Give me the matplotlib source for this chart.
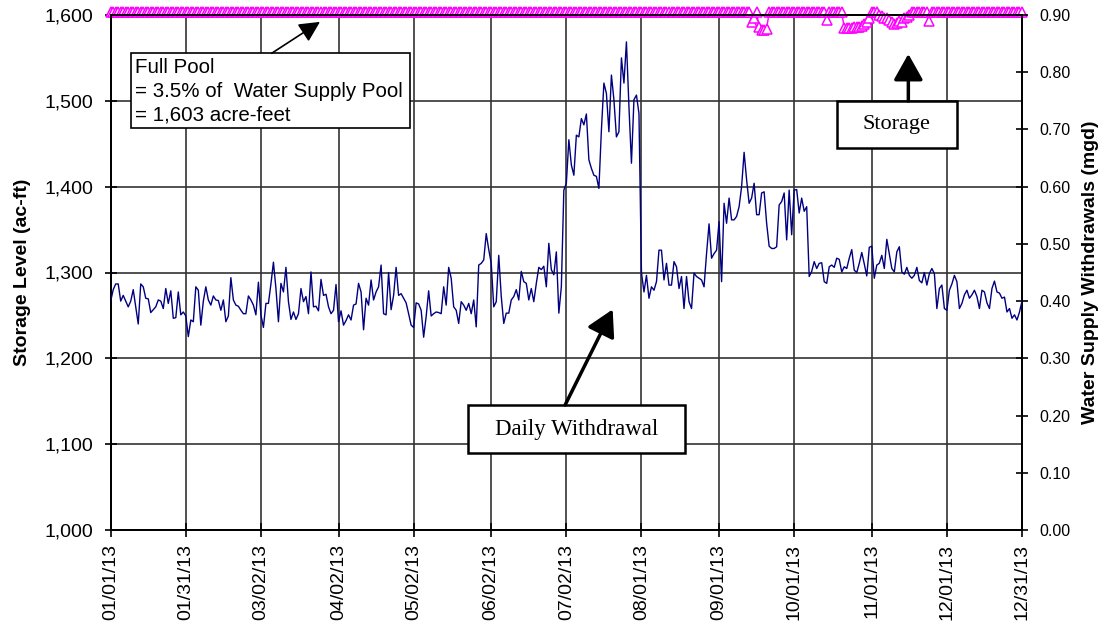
import matplotlib
matplotlib.use('Agg')
import matplotlib.pyplot as plt
from matplotlib.patches import Rectangle
from matplotlib.ticker import FuncFormatter

plt.rcParams['font.family'] = ['Liberation Sans', 'DejaVu Sans']

# x axis ticks (day of year 2013)
tick_days = [0, 30, 60, 91, 121, 152, 182, 212, 243, 273, 304, 334, 364]
tick_labels = ['01/01/13', '01/31/13', '03/02/13', '04/02/13', '05/02/13', '06/02/13',
               '07/02/13', '08/01/13', '09/01/13', '10/01/13', '11/01/13', '12/01/13', '12/31/13']

# daily withdrawals (mgd)
wd_jan = [0.40, 0.42, 0.43, 0.43, 0.40, 0.41, 0.40, 0.39, 0.40, 0.42, 0.39, 0.36, 0.43, 0.425, 0.405,
          0.404, 0.38, 0.385, 0.39, 0.402, 0.40, 0.387, 0.422, 0.396, 0.418, 0.37, 0.371, 0.416, 0.376,
          0.381, 0.374]
wd_feb = [0.338, 0.367, 0.364, 0.425, 0.419, 0.358, 0.40, 0.425, 0.402, 0.393, 0.409, 0.402, 0.401,
          0.384, 0.402, 0.364, 0.374, 0.441, 0.402, 0.393, 0.391, 0.384, 0.378, 0.378, 0.409, 0.402,
          0.393, 0.376]
wd_mar = [0.433, 0.376, 0.354, 0.396, 0.396, 0.43, 0.468, 0.422, 0.364, 0.431, 0.416, 0.459, 0.399,
          0.368, 0.381, 0.368, 0.378, 0.422, 0.399, 0.408, 0.378, 0.451, 0.39, 0.391, 0.383, 0.438,
          0.41, 0.412, 0.39, 0.378, 0.384]
wd_apr = [0.429, 0.364, 0.383, 0.358, 0.366, 0.376, 0.367, 0.393, 0.395, 0.431, 0.416, 0.35, 0.405,
          0.393, 0.437, 0.402, 0.416, 0.425, 0.463, 0.378, 0.376, 0.45, 0.385, 0.41, 0.459, 0.41,
          0.413, 0.405, 0.397, 0.378]
wd_may = [0.358, 0.354, 0.397, 0.395, 0.384, 0.337, 0.373, 0.418, 0.374, 0.378, 0.381, 0.38, 0.378,
          0.425, 0.393, 0.459, 0.44, 0.39, 0.384, 0.361, 0.399, 0.393, 0.384, 0.396, 0.378, 0.402,
          0.355, 0.463, 0.466, 0.472, 0.518]
wd_jun = [0.49, 0.466, 0.39, 0.399, 0.48, 0.408, 0.361, 0.379, 0.379, 0.402, 0.408, 0.42, 0.402,
          0.452, 0.434, 0.431, 0.402, 0.422, 0.399, 0.431, 0.459, 0.455, 0.461, 0.425, 0.501, 0.455,
          0.446, 0.486, 0.379, 0.425]
wd_jul = [0.594, 0.606, 0.682, 0.638, 0.62, 0.69, 0.687, 0.719, 0.708, 0.727, 0.647, 0.632, 0.62,
          0.618, 0.597, 0.699, 0.781, 0.763, 0.696, 0.795, 0.752, 0.687, 0.696, 0.825, 0.781, 0.853,
          0.74, 0.641, 0.752, 0.76, 0.728]
wd_aug = [0.45, 0.416, 0.445, 0.405, 0.425, 0.419, 0.434, 0.489, 0.489, 0.437, 0.466, 0.428, 0.428,
          0.469, 0.46, 0.422, 0.443, 0.387, 0.443, 0.399, 0.387, 0.449, 0.443, 0.44, 0.437, 0.425,
          0.483, 0.535, 0.475, 0.483, 0.489]
wd_sep = [0.539, 0.434, 0.571, 0.536, 0.58, 0.542, 0.542, 0.548, 0.565, 0.6, 0.66, 0.612, 0.571,
          0.58, 0.606, 0.551, 0.551, 0.589, 0.591, 0.536, 0.496, 0.492, 0.492, 0.495, 0.568, 0.574,
          0.589, 0.507, 0.594, 0.516]
wd_oct = [0.594, 0.595, 0.554, 0.58, 0.557, 0.565, 0.443, 0.452, 0.469, 0.457, 0.466, 0.467, 0.434,
          0.431, 0.46, 0.463, 0.459, 0.475, 0.473, 0.451, 0.46, 0.457, 0.475, 0.49, 0.454, 0.45,
          0.466, 0.485, 0.465, 0.444, 0.494]
wd_nov = [0.496, 0.44, 0.463, 0.466, 0.48, 0.457, 0.508, 0.483, 0.457, 0.451, 0.486, 0.495, 0.451,
          0.447, 0.459, 0.445, 0.44, 0.445, 0.459, 0.436, 0.432, 0.45, 0.428, 0.448, 0.457, 0.448,
          0.387, 0.422, 0.428, 0.387]
wd_dec = [0.384, 0.419, 0.43, 0.445, 0.434, 0.387, 0.396, 0.411, 0.419, 0.405, 0.411, 0.419, 0.408,
          0.387, 0.419, 0.416, 0.397, 0.387, 0.422, 0.435, 0.416, 0.414, 0.405, 0.407, 0.381, 0.387,
          0.37, 0.376, 0.367, 0.381, 0.40]

withdrawal = (wd_jan + wd_feb + wd_mar + wd_apr + wd_may + wd_jun +
              wd_jul + wd_aug + wd_sep + wd_oct + wd_nov + wd_dec)
days = list(range(len(withdrawal)))

# storage (ac-ft): full pool all year except a few drawdown days
full_pool = 1603
dip_days = [256, 257, 259, 260, 261, 262, 286, 293, 294, 295, 296, 297, 298, 299, 300, 301, 302, 303,
            307, 308, 309, 310, 311, 312, 313, 314, 315, 316, 317, 318, 319, 327]
dip_vals = [1592, 1596, 1586, 1583, 1582, 1584, 1594, 1585, 1585, 1585, 1585, 1586, 1586, 1586, 1587,
            1589, 1592, 1596, 1600, 1599, 1597, 1596, 1594, 1592, 1590, 1591, 1593, 1592, 1596, 1598,
            1600, 1593]
storage = [full_pool] * len(days)
for d, v in zip(dip_days, dip_vals):
    storage[d] = v

W, H = 1104, 628
fig = plt.figure(figsize=(W / 100, H / 100), dpi=100)
ax1 = fig.add_axes([110.7 / W, 1 - 530 / H, (1022 - 110.7) / W, 515 / H])
ax2 = ax1.twinx()

ax1.plot(days, storage, color='#ff00ff', lw=1.0, marker='^', ms=7, mfc='white',
         mec='#ff00ff', mew=1.1, clip_on=False, zorder=4)
ax2.plot(days, withdrawal, color='#000080', lw=1.0, zorder=3)

ax1.set_xlim(0, 364)
ax1.set_ylim(1000, 1600)
ax2.set_ylim(0, 0.9)
ax1.set_yticks(range(1000, 1601, 100))
ax2.set_yticks([i / 10 for i in range(10)])
ax1.yaxis.set_major_formatter(FuncFormatter(lambda v, p: f'{v:,.0f}'))
ax2.yaxis.set_major_formatter(FuncFormatter(lambda v, p: f'{v:.2f}'))
ax1.set_xticks(tick_days)
ax1.set_xticklabels(tick_labels, rotation=90)

ax1.grid(True, color='#333333', lw=1.2)
ax1.set_axisbelow(True)
for ax in (ax1, ax2):
    for s in ax.spines.values():
        s.set_color('black')
        s.set_linewidth(1.3)
ax1.tick_params(axis='y', direction='inout', length=9, width=1.2, labelsize=14, pad=8)
ax1.tick_params(axis='x', direction='inout', length=10, width=1.2, labelsize=14, pad=5)
ax2.tick_params(axis='y', direction='inout', length=9, width=1.2, labelsize=11.5, pad=8)

ax1.set_ylabel('Storage Level (ac-ft)', fontsize=14, fontweight='bold', labelpad=10)
ax2.set_ylabel('Water Supply Withdrawals (mgd)', fontsize=14, fontweight='bold', labelpad=8)

# annotation boxes
serif = ['Liberation Serif', 'DejaVu Serif']
ax1.add_patch(Rectangle((8.0, 1468), 111.5, 87.4, fc='white', ec='black', lw=1.2, zorder=5))
ax1.text(9.6, 1511, 'Full Pool\n= 3.5% of  Water Supply Pool\n= 1,603 acre-feet', fontsize=14.8,
         ha='left', va='center', linespacing=1.3, zorder=6)
ax1.annotate('', xy=(83.6, 1592), xytext=(64.3, 1555.4), zorder=6,
             arrowprops=dict(arrowstyle='-|>,head_length=0.7,head_width=0.35', color='black',
                             lw=1.2, shrinkA=0, shrinkB=0, mutation_scale=18))

ax1.add_patch(Rectangle((290, 1444.7), 47.9, 55.1, fc='white', ec='black', lw=1.8, zorder=5))
ax1.text(314, 1472, 'Storage', fontsize=16, family=serif, ha='center', va='center', zorder=6)
ax1.annotate('', xy=(318.6, 1554.6), xytext=(318.6, 1499.8), zorder=6,
             arrowprops=dict(arrowstyle='-|>,head_length=0.8,head_width=0.45', color='black',
                             lw=2.5, shrinkA=0, shrinkB=0, mutation_scale=20))

ax1.add_patch(Rectangle((142.7, 1089.7), 86.7, 55.9, fc='white', ec='black', lw=1.8, zorder=5))
ax1.text(186, 1117.6, 'Daily Withdrawal', fontsize=16.5, family=serif, ha='center', va='center',
         zorder=6)
ax1.annotate('', xy=(200.5, 1257), xytext=(181.5, 1145.6), zorder=6,
             arrowprops=dict(arrowstyle='-|>,head_length=0.8,head_width=0.45', color='black',
                             lw=2.5, shrinkA=0, shrinkB=0, mutation_scale=20))

fig.savefig('out.png', dpi=100)
